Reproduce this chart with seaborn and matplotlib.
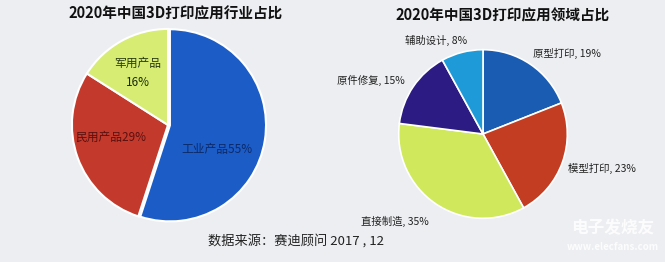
import matplotlib
matplotlib.use("Agg")
import matplotlib.pyplot as plt
import seaborn as sns

sns.set_theme(style="white")
plt.rcParams['font.family'] = ['Noto Sans CJK SC', 'DejaVu Sans']

# Left pie: industry share
ind_labels = ["工业产品", "民用产品", "军用产品"]
ind_values = [55, 29, 16]
ind_colors = ["#1c5cc6", "#c33a2c", "#d6ec72"]

# Right pie: application field share
fld_labels = ["原型打印", "模型打印", "直接制造", "原件修复", "辅助设计"]
fld_values = [19, 23, 35, 15, 8]
fld_colors = ["#1b5cb3", "#c23d22", "#cfe85c", "#2b1b82", "#1f9ad8"]

W, H = 665, 262
fig = plt.figure(figsize=(W / 100, H / 100), dpi=100)
fig.patch.set_facecolor("#eceef1")

def ax_px(cx, cy, r):
    ax = fig.add_axes([(cx - r) / W, (H - cy - r) / H, 2 * r / W, 2 * r / H])
    ax.axis("off")
    return ax

def fix(ax):
    ax.set_xlim(-1.02, 1.02)
    ax.set_ylim(-1.02, 1.02)
    ax.set_aspect("equal", adjustable="box")

# left pie
ax1 = ax_px(168, 125, 100)
ax1.pie(ind_values, colors=ind_colors, startangle=90, counterclock=False,
        explode=[0.02, 0, 0], radius=0.98,
        wedgeprops=dict(edgecolor="white", linewidth=1.5))
fix(ax1)
ax1.text(-0.31, 0.63, ind_labels[2], ha="center", va="center", fontsize=8.5, color="#2a3a10")
ax1.text(-0.31, 0.43, f"{ind_values[2]}%", ha="center", va="center", fontsize=8.5, color="#1a2a08")
ax1.text(-0.58, -0.13, f"{ind_labels[1]}{ind_values[1]}%", ha="center", va="center", fontsize=8.5, color="#5a1010")
ax1.text(0.5, -0.25, f"{ind_labels[0]}{ind_values[0]}%", ha="center", va="center", fontsize=8.5, color="#0c2a6a")

# right pie
ax2 = ax_px(483, 134, 86)
ax2.pie(fld_values, colors=fld_colors, startangle=90, counterclock=False,
        radius=1.0, wedgeprops=dict(edgecolor="white", linewidth=1.2))
fix(ax2)
pos = [(0.99, 0.95), (1.41, -0.41), (-1.04, -1.04), (-1.33, 0.64), (-0.56, 1.11)]
for (x, y), lab, v in zip(pos, fld_labels, fld_values):
    ax2.text(x, y, f"{lab}, {v}%", ha="center", va="center", fontsize=7.5, color="#222222")

fig.text(176 / W, 1 - 13 / H, "2020年中国3D打印应用行业占比", ha="center", va="center",
         fontsize=10.5, fontweight="heavy", color="#111111")
fig.text(503 / W, 1 - 15 / H, "2020年中国3D打印应用领域占比", ha="center", va="center",
         fontsize=10.5, fontweight="heavy", color="#111111")
fig.text(296 / W, 1 - 241 / H, "数据来源：赛迪顾问 2017 , 12", ha="center", va="center",
         fontsize=9.5, color="#222222")
fig.text(613 / W, 1 - 228 / H, "电子发烧友", ha="center", va="center",
         fontsize=12, fontweight="bold", color="white", alpha=0.85)
fig.text(613 / W, 1 - 247 / H, "www.elecfans.com", ha="center", va="center",
         fontsize=7, fontweight="bold", color="white", alpha=0.85)

fig.savefig("out.png", dpi=100, facecolor=fig.get_facecolor())
